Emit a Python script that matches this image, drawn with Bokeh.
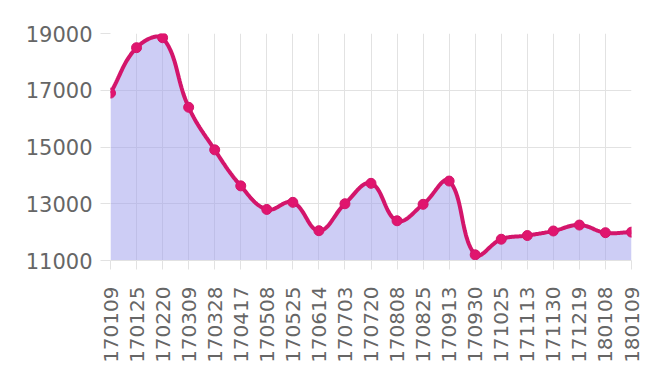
import numpy as np
from bokeh.plotting import figure
from bokeh.models import Range1d, FixedTicker
from bokeh.embed import file_html
from bokeh.resources import INLINE

dates = ["170109", "170125", "170220", "170309", "170328", "170417", "170508",
         "170525", "170614", "170703", "170720", "170808", "170825", "170913",
         "170930", "171025", "171113", "171130", "171219", "180108", "180109"]
prices = [16900, 18500, 18850, 16400, 14900, 13630, 12800, 13050, 12050, 13000,
          13720, 12400, 12980, 13800, 11200, 11750, 11880, 12040, 12250, 11980, 12000]
y_ticks = [11000, 13000, 15000, 17000, 19000]
y_min, y_max = 11000, 19000

xs = np.arange(len(prices), dtype=float)
ys = np.array(prices, dtype=float)

# Chart.js-like spline (tension 0.4), computed in pixel-proportional space
sx, sy = 26.05, 28.3 / 1000.0
px, py = xs * sx, ys * sy
n = len(px)
tension = 0.4
c_prev = np.zeros((n, 2))
c_next = np.zeros((n, 2))
for i in range(n):
    cur = np.array([px[i], py[i]])
    prv = np.array([px[max(i - 1, 0)], py[max(i - 1, 0)]])
    nxt = np.array([px[min(i + 1, n - 1)], py[min(i + 1, n - 1)]])
    d01 = np.hypot(*(cur - prv))
    d12 = np.hypot(*(nxt - cur))
    tot = d01 + d12
    s01 = d01 / tot if tot else 0
    s12 = d12 / tot if tot else 0
    c_prev[i] = cur - tension * s01 * (nxt - prv)
    c_next[i] = cur + tension * s12 * (nxt - prv)
c_prev[:, 1] = np.clip(c_prev[:, 1], y_min * sy, y_max * sy)
c_next[:, 1] = np.clip(c_next[:, 1], y_min * sy, y_max * sy)

cx, cy = [], []
t = np.linspace(0, 1, 25)
for i in range(n - 1):
    p0 = np.array([px[i], py[i]])
    p1 = c_next[i]
    p2 = c_prev[i + 1]
    p3 = np.array([px[i + 1], py[i + 1]])
    seg = ((1 - t) ** 3)[:, None] * p0 + (3 * (1 - t) ** 2 * t)[:, None] * p1 \
        + (3 * (1 - t) * t ** 2)[:, None] * p2 + (t ** 3)[:, None] * p3
    if i > 0:
        seg = seg[1:]
    cx.extend(seg[:, 0] / sx)
    cy.extend(seg[:, 1] / sy)
cx = np.array(cx)
cy = np.array(cy)

p = figure(width=651, height=370, output_backend="svg", toolbar_location=None,
           x_range=Range1d(0, len(prices) - 1), y_range=Range1d(y_min, y_max),
           min_border_left=110, min_border_right=20, min_border_top=33,
           min_border_bottom=110)
p.outline_line_color = None
p.background_fill_color = "white"

p.varea(x=cx, y1=y_min, y2=cy, fill_color="#9b9bec", fill_alpha=0.5)
p.line(cx, cy, line_color="#d3156b", line_width=4)
p.scatter(xs, ys, size=10, fill_color="#e0156e", line_color="#d3156b", line_width=1)

grid_color = "#e2e2e2"
font = "DejaVu Sans"
p.xaxis.ticker = FixedTicker(ticks=list(range(len(dates))))
p.xaxis.major_label_overrides = {i: d for i, d in enumerate(dates)}
p.xaxis.major_label_orientation = np.pi / 2
p.xaxis.axis_line_color = grid_color
p.xaxis.major_tick_line_color = grid_color
p.xaxis.major_tick_out = 9
p.xaxis.major_tick_in = 0
p.xaxis.minor_tick_line_color = None
p.xaxis.major_label_standoff = 17
p.xaxis.major_label_text_font = font
p.xaxis.major_label_text_font_size = "20px"
p.xaxis.major_label_text_color = "#666666"

p.yaxis.ticker = FixedTicker(ticks=y_ticks)
p.yaxis.axis_line_color = None
p.yaxis.major_tick_line_color = grid_color
p.yaxis.major_tick_out = 10
p.yaxis.major_tick_in = 0
p.yaxis.minor_tick_line_color = None
p.yaxis.major_label_standoff = 8
p.yaxis.major_label_text_font = font
p.yaxis.major_label_text_font_size = "21px"
p.yaxis.major_label_text_color = "#666666"

p.xgrid.grid_line_color = grid_color
p.ygrid.grid_line_color = grid_color

open("out.html", "w").write(file_html(p, INLINE))
